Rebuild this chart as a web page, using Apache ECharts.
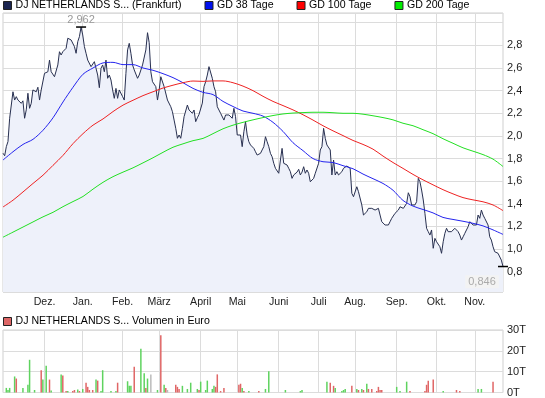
<!DOCTYPE html>
<html>
<head>
<meta charset="utf-8">
<script src="https://cdn.jsdelivr.net/npm/echarts@6/dist/echarts.min.js"></script>
<style>
html, body { margin: 0; padding: 0; background: #fff; }
#chart { width: 545px; height: 398px; }
</style>
</head>
<body>
<div id="chart"></div>
<script>
var priceName = 'DJ NETHERLANDS S... (Frankfurt)';
var volName = 'DJ NETHERLANDS S... Volumen in Euro';

var monthLabels = ['Dez.', 'Jan.', 'Feb.', 'März', 'April', 'Mai', 'Juni', 'Juli', 'Aug.', 'Sep.', 'Okt.', 'Nov.'];
var monthStarts = [25, 48, 72, 94, 119, 141, 166, 190, 212, 237, 261, 284];

// daily close (Frankfurt)
var closeValues = [
    1.847,1.825,1.905,1.95,2.156,2.147,2.39,2.317,2.347,2.317,
    2.33,2.288,2.31,2.156,2.23,2.377,2.244,2.288,2.406,2.42,
    2.39,2.43,2.317,2.406,2.42,2.553,2.538,2.567,2.67,2.567,
    2.567,2.523,2.509,2.627,2.744,2.715,2.744,2.73,2.774,2.863,
    2.863,2.848,2.863,2.789,2.73,2.833,2.877,2.962,2.892,2.789,
    2.73,2.67,2.656,2.612,2.598,2.656,2.642,2.538,2.426,2.598,
    2.627,
    2.567,2.67,2.509,2.538,2.494,2.406,2.332,2.42,2.332,2.406,
    2.39,2.347,2.317,2.553,2.76,2.818,2.73,2.627,2.583,2.598,
    2.509,2.538,2.553,2.627,2.612,2.76,2.912,2.825,2.567,2.479,
    2.494,2.435,2.317,2.406,2.523,2.538,2.435,2.45,2.317,2.332,
    2.258,2.214,2.14,2.067,1.979,2.008,1.979,2.067,2.17,2.156,
    2.273,2.229,2.244,2.2,2.229,2.126,
    2.16,2.19,2.2,2.29,2.435,2.479,2.538,2.612,2.598,2.509,
    2.435,2.39,2.258,2.244,2.2,2.185,2.14,2.185,2.17,2.185,
    2.17,2.156,2.244,2.17,2.008,1.993,2.008,1.905,2.037,2.126,
    2.008,1.949,1.92,1.905,1.89,1.86,1.831,1.816,1.846,1.876,
    1.905,1.993,1.949,1.905,1.846,1.816,1.758,1.714,1.699,1.67,
    1.787,1.89,1.758,1.743,1.743,1.714,1.684,1.625,1.655,1.655,
    1.68,1.705,1.655,1.68,
    1.728,1.67,1.699,1.67,1.595,1.595,1.625,1.67,1.67,1.758,
    1.876,1.905,2.067,1.979,1.92,1.92,1.876,1.655,1.787,1.655,
    1.684,1.655,1.67,1.684,1.714,1.728,1.734,1.728,1.714,1.493,
    1.463,1.449,1.551,1.507,1.522,1.39,1.301,1.316,1.33,1.36,
    1.374,1.36,1.36,1.345,1.345,1.36,1.301,1.242,1.228,1.213,
    1.198,1.213,1.242,1.272,1.286,1.316,1.316,1.345,1.374,1.385,
    1.36,1.37,
    1.404,1.498,1.463,1.39,1.404,1.39,1.419,1.625,1.595,1.522,
    1.434,1.316,1.184,1.154,1.124,1.169,1.007,1.095,1.065,1.051,
    1.021,0.963,1.065,1.139,1.184,1.154,1.169,1.154,1.139,1.184,
    1.169,1.154,1.124,1.08,1.109,1.139,1.169,1.198,1.242,1.228,
    1.213,1.228,1.213,1.301,1.272,1.345,1.301,1.272,1.257,1.213,
    1.109,1.08,1.021,0.977,0.963,0.963,0.948,0.903,0.846
];

// moving averages, read every ~10 px across the chart
var gd38 = [
    1.787,1.86,1.925,1.97,2.05,2.16,2.30,2.43,2.545,2.60,
    2.645,2.65,2.63,2.63,2.60,2.58,2.55,2.515,2.47,2.42,
    2.385,2.365,2.305,2.26,2.22,2.20,2.175,2.12,2.04,1.94,
    1.87,1.80,1.772,1.765,1.737,1.71,1.663,1.622,1.58,1.52,
    1.43,1.38,1.35,1.32,1.28,1.262,1.246,1.228,1.205,1.17,
    1.13
];
var gd100 = [
    1.372,1.432,1.505,1.58,1.653,1.74,1.828,1.932,2.02,2.095,
    2.15,2.215,2.272,2.315,2.356,2.39,2.423,2.448,2.47,2.485,
    2.482,2.486,2.486,2.47,2.44,2.40,2.35,2.305,2.268,2.23,
    2.187,2.14,2.09,2.045,2.003,1.96,1.925,1.883,1.822,1.765,
    1.713,1.66,1.612,1.568,1.525,1.488,1.455,1.435,1.418,1.39,
    1.34
];
var gd200 = [
    1.105,1.15,1.195,1.24,1.285,1.325,1.375,1.42,1.465,1.53,
    1.59,1.64,1.68,1.718,1.762,1.807,1.855,1.9,1.93,1.958,
    1.978,2.02,2.063,2.095,2.12,2.142,2.162,2.18,2.194,2.202,
    2.206,2.209,2.209,2.205,2.2,2.2,2.192,2.178,2.162,2.142,
    2.112,2.09,2.055,2.02,1.975,1.935,1.895,1.865,1.835,1.795,
    1.73
];

// volume (thousand euro): trading day, amount, direction u/d/n
var volDay = [2,3,4,7,8,12,15,16,19,23,24,26,28,29,35,36,38,39,42,43,45,46,48,50,51,52,54,56,57,59,
    60,65,68,69,75,76,77,79,83,85,86,87,89,93,95,97,98,99,104,105,106,108,111,113,117,118,119,122,123,126,
    127,128,129,131,133,142,143,144,145,148,154,158,160,170,179,180,195,197,199,200,204,205,206,210,213,214,216,217,219,220,
    222,225,226,227,228,237,239,243,245,254,255,256,259,265,273,275,286,288,295];
var volAmount = [2.2,1.2,2.2,7.7,6.7,2.2,3.7,15.7,1.2,10.7,6.2,12.9,6.2,1.0,8.7,8.2,0.7,0.7,0.7,1.2,1.5,0.7,1.7,4.7,2.7,1.2,1.2,6.2,5.7,0.7,
    10.7,0.7,0.7,4.7,5.4,3.2,3.2,12.4,21,9.2,2.2,6.7,8.7,1.2,27.5,3.7,2.2,1.2,3.7,2.7,1.7,3.2,1.7,4.7,1.7,1.2,5.2,1.2,5.7,1.7,
    3.2,2.7,8.7,0.7,2.2,3.7,4.2,2.2,0.7,0.7,0.7,1.7,10.2,1.2,0.7,1.2,5.2,4.7,3.2,2.2,0.7,1.2,1.7,3.2,1.7,1.2,1.7,1.2,4.2,1.7,
    1.7,0.7,2.7,1.2,1.2,2.7,0.7,5.2,0.7,0.7,3.7,5.7,6.2,0.7,1.2,0.7,1.7,1.7,5.2];
var volDir = ['u','u','u','u','d','u','u','u','u','d','u','u','d','u','u','d','d','u','d','d','u','d','u','d','d','d','d','u','d','u',
    'u','u','u','d','u','u','u','d','u','u','d','u','n','u','d','u','d','n','d','d','d','u','u','u','u','d','u','u','u','u',
    'u','d','d','d','d','d','d','u','d','u','d','u','u','u','u','u','u','d','d','u','u','u','u','d','u','d','u','d','u','d',
    'd','d','d','d','d','u','u','u','d','d','d','d','d','u','d','d','u','u','d'];

var yTicksMin = 0.621, yTicksMax = 3.086;

var chart = echarts.init(document.getElementById('chart'));

var days = closeValues.map(function (v, i) { return String(i); });
var maDays = gd38.map(function (v, i) { return String(i); });
var lastIdx = closeValues.length - 1;

function isMonthStart(i) { return monthStarts.indexOf(i) >= 0; }
function comma(v, d) { return v.toFixed(d).replace('.', ','); }

var volColors = { u: '#5fd35f', d: '#e06666', n: '#bbbbbb' };
var volData = volDay.map(function (d, k) {
    return { value: [d, volAmount[k]], itemStyle: { color: volColors[volDir[k]] } };
});

var gridLine = { show: true, interval: function (i) { return isMonthStart(i); }, lineStyle: { color: '#dcdcdc', width: 1 } };

var option = {
    animation: false,
    backgroundColor: '#fff',
    textStyle: { fontFamily: 'Liberation Sans, Arial, sans-serif' },
    legend: [{
        left: 3, top: 0, padding: 0,
        icon: 'rect', itemWidth: 8, itemHeight: 8, itemGap: 23,
        itemStyle: { borderColor: '#222', borderWidth: 1 },
        textStyle: { fontSize: 10.6, color: '#000', padding: [0, 0, 0, -1] },
        data: [priceName, 'GD 38 Tage', 'GD 100 Tage', 'GD 200 Tage']
    }, {
        left: 3, top: 316, padding: 0,
        icon: 'rect', itemWidth: 8, itemHeight: 8,
        itemStyle: { borderColor: '#222', borderWidth: 1 },
        textStyle: { fontSize: 10.6, color: '#000', padding: [0, 0, 0, -1] },
        data: [volName]
    }],
    grid: [
        { left: 3, right: 42, top: 13, bottom: 106, show: true, borderColor: '#cfcfcf', borderWidth: 1 },
        { left: 3, right: 42, top: 330, bottom: 5, show: true, borderColor: '#cfcfcf', borderWidth: 1 }
    ],
    xAxis: [{
        type: 'category', gridIndex: 0, data: days, boundaryGap: false,
        axisLine: { show: false }, axisTick: { show: false },
        axisLabel: {
            interval: function (i) { return isMonthStart(i); },
            formatter: function (v) { return monthLabels[monthStarts.indexOf(Number(v))]; },
            fontSize: 10.6, color: '#222', margin: 5
        },
        splitLine: gridLine
    }, {
        type: 'category', gridIndex: 0, data: maDays, boundaryGap: false, show: false
    }, {
        type: 'category', gridIndex: 1, data: days, boundaryGap: false,
        axisLine: { show: false }, axisTick: { show: false }, axisLabel: { show: false },
        splitLine: gridLine
    }],
    yAxis: [{
        type: 'value', gridIndex: 0, position: 'right',
        min: yTicksMin, max: yTicksMax, splitNumber: 12, minInterval: 0.2, maxInterval: 0.2,
        axisLine: { show: false }, axisTick: { show: false },
        axisLabel: {
            showMinLabel: false, showMaxLabel: false, margin: 4, fontSize: 11, color: '#222',
            formatter: function (v) { return v > 2.9 ? '' : comma(v, 1); }
        },
        splitLine: { lineStyle: { color: '#dcdcdc' } }
    }, {
        type: 'value', gridIndex: 1, position: 'right', min: 0, max: 30, interval: 10,
        axisLine: { show: false }, axisTick: { show: false },
        axisLabel: { margin: 4, fontSize: 11, color: '#222', formatter: function (v) { return v + 'T'; } },
        splitLine: { lineStyle: { color: '#dcdcdc' } }
    }],
    series: [{
        name: priceName, type: 'line', xAxisIndex: 0, yAxisIndex: 0,
        data: closeValues, symbol: 'none', z: 3,
        lineStyle: { color: '#283050', width: 1 },
        itemStyle: { color: '#1b2550' },
        areaStyle: { color: '#eef1fa', origin: 'start', opacity: 1 },
        markPoint: {
            symbol: 'rect', symbolSize: [10, 1.5],
            itemStyle: { color: '#000' },
            data: [{
                type: 'max',
                label: { show: true, position: 'top', distance: 1, fontSize: 11, color: '#999',
                    formatter: function (p) { return comma(p.value, 3); } }
            }, {
                coord: [String(lastIdx), closeValues[lastIdx]], value: closeValues[lastIdx],
                label: { show: true, position: 'bottom', offset: [-21, 3], fontSize: 11, color: '#aaa',
                    backgroundColor: '#f3f3f3', padding: [1, 3],
                    formatter: function (p) { return comma(p.value, 3); } }
            }]
        }
    }, {
        name: 'GD 38 Tage', type: 'line', xAxisIndex: 1, yAxisIndex: 0, data: gd38,
        symbol: 'none', smooth: 0.3, z: 4,
        lineStyle: { color: '#2424ee', width: 1 }, itemStyle: { color: '#0010ee' }
    }, {
        name: 'GD 100 Tage', type: 'line', xAxisIndex: 1, yAxisIndex: 0, data: gd100,
        symbol: 'none', smooth: 0.3, z: 4,
        lineStyle: { color: '#ee2222', width: 1 }, itemStyle: { color: '#ff0000' }
    }, {
        name: 'GD 200 Tage', type: 'line', xAxisIndex: 1, yAxisIndex: 0, data: gd200,
        symbol: 'none', smooth: 0.3, z: 4,
        lineStyle: { color: '#22e022', width: 1 }, itemStyle: { color: '#00ee00' }
    }, {
        name: volName, type: 'bar', xAxisIndex: 2, yAxisIndex: 1,
        data: volData, barWidth: 1.5,
        itemStyle: { color: '#dd6666' }
    }]
};

chart.setOption(option);
</script>
</body>
</html>
